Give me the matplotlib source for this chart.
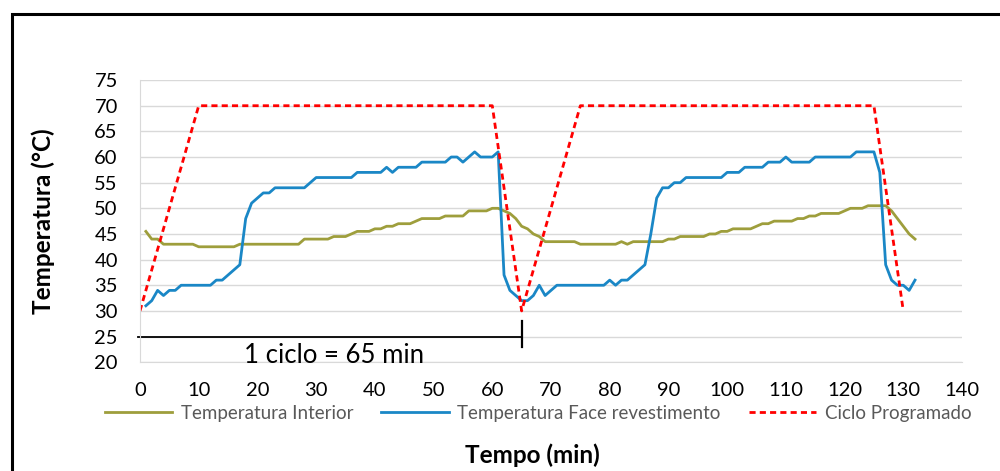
import numpy as np
import matplotlib
matplotlib.use("Agg")
import matplotlib.pyplot as plt
from matplotlib.patches import Rectangle

plt.rcParams["font.family"] = ["Lato", "DejaVu Sans"]

# dados
tempo = np.arange(1, 133)
face = [31, 32, 34, 33, 34, 34, 35, 35, 35, 35, 35, 35, 36, 36, 37, 38, 39, 48, 51, 52,
        53, 53, 54, 54, 54, 54, 54, 54, 55, 56, 56, 56, 56, 56, 56, 56, 57, 57, 57, 57,
        57, 58, 57, 58, 58, 58, 58, 59, 59, 59, 59, 59, 60, 60, 59, 60, 61, 60, 60, 60,
        61, 37, 34, 33, 32, 32, 33, 35, 33, 34, 35, 35, 35, 35, 35, 35, 35, 35, 35, 36,
        35, 36, 36, 37, 38, 39, 45, 52, 54, 54, 55, 55, 56, 56, 56, 56, 56, 56, 56, 57,
        57, 57, 58, 58, 58, 58, 59, 59, 59, 60, 59, 59, 59, 59, 60, 60, 60, 60, 60, 60,
        60, 61, 61, 61, 61, 57, 39, 36, 35, 35, 34, 36]
interior = [45.5, 44, 44, 43, 43, 43, 43, 43, 43, 42.5, 42.5, 42.5, 42.5, 42.5, 42.5, 42.5, 43, 43, 43, 43,
            43, 43, 43, 43, 43, 43, 43, 44, 44, 44, 44, 44, 44.5, 44.5, 44.5, 45, 45.5, 45.5, 45.5, 46,
            46, 46.5, 46.5, 47, 47, 47, 47.5, 48, 48, 48, 48, 48.5, 48.5, 48.5, 48.5, 49.5, 49.5, 49.5, 49.5, 50,
            50, 49.5, 49, 48, 46.5, 46, 45, 44.5, 43.5, 43.5, 43.5, 43.5, 43.5, 43.5, 43, 43, 43, 43, 43, 43,
            43, 43.5, 43, 43.5, 43.5, 43.5, 43.5, 43.5, 43.5, 44, 44, 44.5, 44.5, 44.5, 44.5, 44.5, 45, 45, 45.5, 45.5,
            46, 46, 46, 46, 46.5, 47, 47, 47.5, 47.5, 47.5, 47.5, 48, 48, 48.5, 48.5, 49, 49, 49, 49, 49.5,
            50, 50, 50, 50.5, 50.5, 50.5, 50.5, 49.5, 48, 46.5, 45, 44]
ciclo_t = [0, 10, 60, 65, 75, 125, 130]
ciclo_T = [30, 70, 70, 30, 70, 70, 30]

fig = plt.figure(figsize=(10, 4.71), dpi=100)
ax = fig.add_axes([0.14, 0.231, 0.822, 0.599])

ax.plot(tempo, interior, color="#9E9E3C", lw=2.0, label="Temperatura Interior")
ax.plot(tempo, face, color="#1A87C6", lw=2.0, label="Temperatura Face revestimento")
ax.plot(ciclo_t, ciclo_T, color="#FF0000", lw=2.0, ls=(0, (2.2, 1.5)), label="Ciclo Programado")

ax.set_xlim(0, 140)
ax.set_ylim(20, 75)
ax.set_xticks(range(0, 141, 10))
ax.set_yticks(range(20, 76, 5))
ax.grid(axis="y", color="#D9D9D9", lw=1)
ax.set_axisbelow(True)
for s in ["top", "right"]:
    ax.spines[s].set_visible(False)
for s in ["left", "bottom"]:
    ax.spines[s].set_color("#D9D9D9")
ax.tick_params(length=0, labelsize=14.5)
ax.tick_params(axis="y", pad=16)
ax.tick_params(axis="x", pad=14)

# anotacao do ciclo
ax.plot([-0.3, 65], [25, 25], color="black", lw=1.3, clip_on=False)
ax.plot([65, 65], [23, 28], color="black", lw=1.6)
ax.text(33, 21.4, "1 ciclo = 65 min", fontsize=18.5, ha="center", va="center")

fig.text(0.043, 0.53, "Temperatura (°C)", rotation=90, fontsize=17.5, fontweight="bold",
         ha="center", va="center")
fig.text(0.532, 0.034, "Tempo (min)", fontsize=17.5, fontweight="bold", ha="center", va="center")

leg = fig.legend(loc="center", bbox_to_anchor=(0.538, 0.123), ncol=3, frameon=False,
                 fontsize=13.5, handlelength=3.6, columnspacing=1.5, handletextpad=0.45)
for t in leg.get_texts():
    t.set_color("#595959")

fig.patches.append(Rectangle((0.012, -0.05), 1.1, 1.02, transform=fig.transFigure,
                             fill=False, ec="black", lw=2.2))

fig.savefig("out.png", dpi=100)
